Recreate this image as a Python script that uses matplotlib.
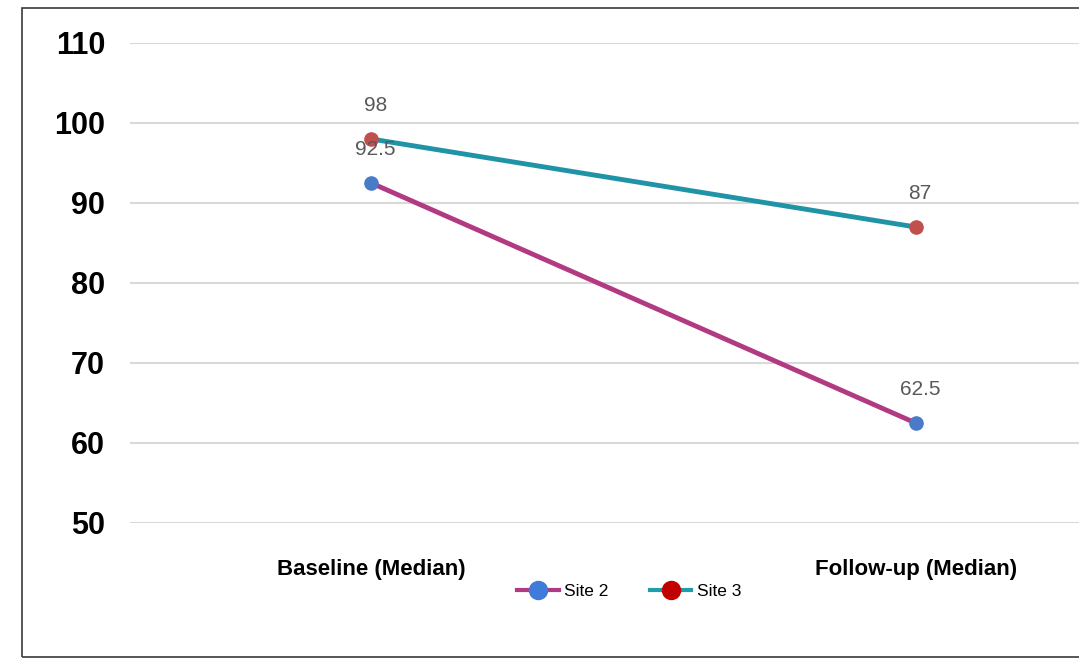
import matplotlib
matplotlib.use('Agg')
import matplotlib.pyplot as plt
from matplotlib.patches import Rectangle
from matplotlib.lines import Line2D

plt.rcParams['font.family'] = ['Liberation Sans', 'DejaVu Sans']

categories = ['Baseline (Median)', 'Follow-up (Median)']
site2 = [92.5, 62.5]
site3 = [98, 87]
y_ticks = [50, 60, 70, 80, 90, 100, 110]

fig = plt.figure(figsize=(10.79, 6.59), dpi=100)
ax = fig.add_axes([130 / 1079, 1 - 523 / 659, (1079 - 130) / 1079, (523 - 43) / 659])

x = range(len(categories))
ax.plot(x, site2, color='#B23A82', lw=3.5, marker='o', ms=9.5,
        mfc='#4A7BC8', mec='#4A7BC8', zorder=3)
ax.plot(x, site3, color='#2094A6', lw=3.5, marker='o', ms=9.5,
        mfc='#C0504D', mec='#C0504D', zorder=3)

# value labels above each point
for xi, v in zip(x, site2):
    ax.annotate(f'{v:g}', (xi, v), xytext=(3, 24), textcoords='offset points',
                ha='center', va='center', fontsize=15, color='#595959')
for xi, v in zip(x, site3):
    ax.annotate(f'{v:g}', (xi, v), xytext=(3, 24), textcoords='offset points',
                ha='center', va='center', fontsize=15, color='#595959')

ax.set_ylim(50, 110)
ax.set_yticks(y_ticks)
ax.set_xlim(-0.443, 1.30)
ax.set_xticks(list(x))
ax.set_xticklabels(categories, fontsize=16, fontweight='bold')
ax.tick_params(axis='y', labelsize=22, length=0, pad=18)
for lbl in ax.get_yticklabels():
    lbl.set_fontweight('bold')
ax.tick_params(axis='x', length=0, pad=26)
ax.grid(axis='y', color='#D9D9D9', lw=1.5)
ax.set_axisbelow(True)
for s in ax.spines.values():
    s.set_visible(False)

handles = [
    Line2D([0], [0], color='#B23A82', lw=3, marker='o', ms=13,
           mfc='#3F7BD8', mec='#3F7BD8'),
    Line2D([0], [0], color='#1E9EAA', lw=3, marker='o', ms=13,
           mfc='#C00000', mec='#C00000'),
]
fig.legend(handles, ['Site 2', 'Site 3'], loc='center', ncol=2,
           bbox_to_anchor=(629 / 1079, 1 - 591 / 659), frameon=False,
           fontsize=12.5, handlelength=2.4, columnspacing=2.4, handletextpad=0.3)

# outer chart frame
fig.patches.append(Rectangle((22 / 1079, 2 / 659), 1.1, 649 / 659,
                             transform=fig.transFigure, fill=False,
                             edgecolor='#3A3A3A', lw=1.2))

fig.savefig('out.png', dpi=100)
